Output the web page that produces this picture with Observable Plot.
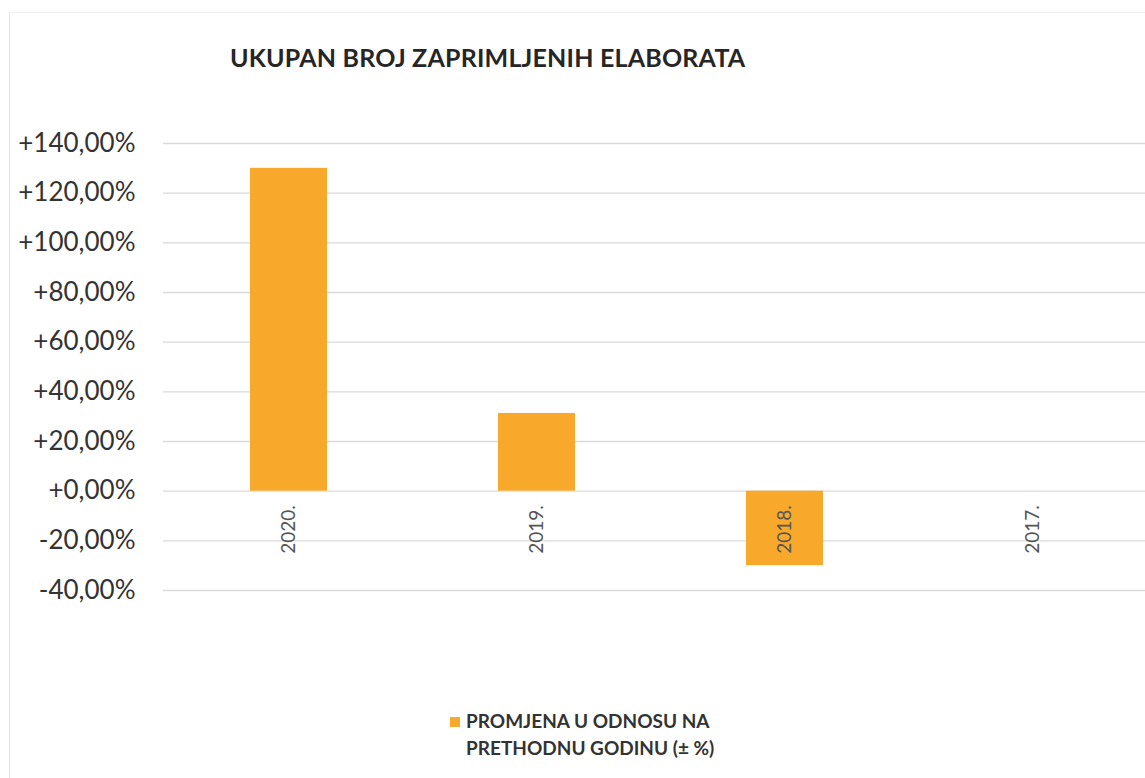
<!DOCTYPE html>
<html>
<head>
<meta charset="utf-8">
<script src="https://cdn.jsdelivr.net/npm/d3@7"></script>
<script src="https://cdn.jsdelivr.net/npm/@observablehq/plot@0.6"></script>
<style>
  html, body { margin: 0; padding: 0; background: #fff; overflow: hidden; }
  #wrap { position: relative; width: 1145px; height: 778px; font-family: Lato, "Open Sans", sans-serif; }
  #frame { position: absolute; left: 9px; top: 12px; width: 1200px; height: 800px; border-left: 1px solid #e4e4e4; border-top: 1px solid #f0f0f0; }
  #title { height: 100px; box-sizing: border-box; padding-top: 42px; padding-left: 230px; font-weight: 700; font-size: 25px; color: #262626; letter-spacing: 0.2px; }
  #legend { position: absolute; left: 450px; top: 707px; font-weight: 700; font-size: 19px; color: #333; line-height: 27px; }
  #legend .sw { position: absolute; left: 0; top: 10px; width: 10px; height: 10px; background: #F8A92C; }
  #legend .tx { margin-left: 16px; }
  svg { overflow: visible; }
</style>
</head>
<body>
<div id="wrap">
  <div id="frame"></div>
  <div id="title">UKUPAN BROJ ZAPRIMLJENIH ELABORATA</div>
  <div id="chart"></div>
  <div id="legend"><div class="sw"></div><div class="tx">PROMJENA U ODNOSU NA<br>PRETHODNU GODINU (± %)</div></div>
</div>
<script>
const years = ["2020.", "2019.", "2018.", "2017."];
const changes = [130, 31.3, -30, 0];
const yTicks = [-40, -20, 0, 20, 40, 60, 80, 100, 120, 140];
const seriesName = "PROMJENA U ODNOSU NA PRETHODNU GODINU (± %)";

const data = years.map((y, i) => ({year: y, value: changes[i]}));
const fmt = v => (v < 0 ? "-" : "+") + Math.abs(v).toFixed(2).replace(".", ",") + "%";

const chart = Plot.plot({
  width: 1145,
  height: 590,
  marginTop: 43,
  marginBottom: 100,
  marginLeft: 163,
  marginRight: 0,
  style: {fontFamily: "Lato, 'Open Sans', sans-serif", background: "transparent", overflow: "visible"},
  x: {domain: years, range: [164, 1156], paddingInner: 0.69, paddingOuter: 0.345, axis: null},
  y: {domain: [-40, 140], ticks: yTicks, label: null},
  marks: [
    Plot.ruleY(yTicks, {stroke: "#d9d9d9", strokeWidth: 1.3}),
    Plot.axisY({ticks: yTicks, tickFormat: fmt, tickSize: 0, tickPadding: 28, fontSize: 26, color: "#333", label: null}),
    Plot.barY(data, {x: "year", y: "value", fill: "#F8A92C"}),
    Plot.text(data, {x: "year", y: 0, text: "year", rotate: -90, textAnchor: "end", dy: 14, fontSize: 19, fill: "#555"})
  ]
});
document.getElementById("chart").appendChild(chart);
</script>
</body>
</html>
